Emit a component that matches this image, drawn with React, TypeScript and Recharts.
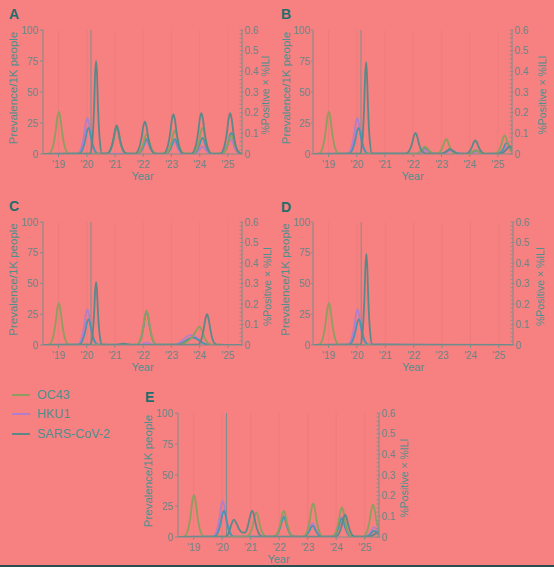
import React from 'react';
import { LineChart, Line, XAxis, YAxis, CartesianGrid, ReferenceLine, Label } from 'recharts';

type Pt = [number, number];

// ---------- colours & fonts ----------
const BG = '#F78080';
const COL_OC43 = '#8E9E5E';
const COL_HKU1 = '#B07ECB';
const COL_SARS = '#5E8888';
const COL_BLUE = '#4A94AE';
const COL_AXIS = '#7E8E8E';
const COL_TICK = '#6A8686';
const COL_LABEL = '#4D9090';
const COL_TITLE = '#1E6E6C';
const COL_GRID = '#EC7B7B';
const FONT = '"Liberation Sans", Arial, Helvetica, sans-serif';

// ---------- axes ----------
const X_DOMAIN: [number, number] = [2018.45, 2025.5];
const YEAR_TICKS = [2019, 2020, 2021, 2022, 2023, 2024, 2025];
const YEAR_LABELS = ["'19", "'20", "'21", "'22", "'23", "'24", "'25"];
const LEFT_TICKS = [0, 25, 50, 75, 100];
const RIGHT_TICKS = [
  0, 0.02, 0.04, 0.06, 0.08, 0.1, 0.12, 0.14, 0.16, 0.18, 0.2, 0.22, 0.24, 0.26, 0.28, 0.3,
  0.32, 0.34, 0.36, 0.38, 0.4, 0.42, 0.44, 0.46, 0.48, 0.5, 0.52, 0.54, 0.56, 0.58, 0.6,
];
const RIGHT_MAJOR = [0, 0.1, 0.2, 0.3, 0.4, 0.5, 0.6];
const RIGHT_MAJOR_LABELS = ['0', '0.1', '0.2', '0.3', '0.4', '0.5', '0.6'];
const MARKER_YEAR = 2020.15;

const LEGEND_NAMES = ['OC43', 'HKU1', 'SARS-CoV-2'];
const LEGEND_COLORS = [COL_OC43, COL_HKU1, COL_SARS];

// ---------- shared 2019-2020 seasons ----------
const OC43_2019: Pt[] = [
  [2018.45, 0], [2018.66, 0.3], [2018.79, 5], [2018.89, 17], [2018.96, 30], [2019.01, 34],
  [2019.06, 30], [2019.13, 17], [2019.23, 5], [2019.36, 0.3],
];
const HKU1_2020: Pt[] = [
  [2018.45, 0], [2019.67, 0.2], [2019.8, 4.4], [2019.9, 14.5], [2019.97, 25.5], [2020.02, 29],
  [2020.07, 25.5], [2020.14, 14.5], [2020.24, 4.4], [2020.37, 0.3],
];
const BLUE_2020: Pt[] = [
  [2018.45, 0], [2019.71, 0.2], [2019.84, 3.2], [2019.94, 10.5], [2020.01, 18.5], [2020.06, 21],
  [2020.11, 18.5], [2020.18, 10.5], [2020.28, 3.2], [2020.41, 0.2],
];

// ---------- Panel A ----------
const A_OC43_LATE: Pt[] = [
  [2020.71, 0.2], [2020.84, 3.3], [2020.94, 11], [2021.01, 19.4], [2021.06, 22], [2021.11, 19.4], [2021.18, 11], [2021.28, 3.3], [2021.41, 0.2],
  [2021.77, 0.2], [2021.9, 2.4], [2022.0, 8], [2022.07, 14], [2022.12, 16], [2022.17, 14], [2022.24, 8], [2022.34, 2.4], [2022.47, 0.2],
  [2022.77, 0.2], [2022.9, 2.9], [2023.0, 9.5], [2023.07, 16.7], [2023.12, 19], [2023.17, 16.7], [2023.24, 9.5], [2023.34, 2.9], [2023.47, 0.2],
  [2023.75, 0.2], [2023.88, 3.2], [2023.98, 10.5], [2024.05, 18.5], [2024.1, 21], [2024.15, 18.5], [2024.22, 10.5], [2024.32, 3.2], [2024.45, 0.2],
  [2024.77, 0.2], [2024.9, 2.3], [2025.0, 7.5], [2025.07, 13.2], [2025.12, 15], [2025.17, 13.2], [2025.24, 7.5], [2025.34, 2.3], [2025.5, 0.1],
];
const A_HKU1_LATE: Pt[] = [
  [2021.77, 0.1], [2021.9, 1.5], [2022.0, 5], [2022.07, 8.8], [2022.12, 10], [2022.17, 8.8], [2022.24, 5], [2022.34, 1.5], [2022.47, 0.1],
  [2022.75, 0.1], [2022.88, 1.5], [2022.98, 5], [2023.05, 8.8], [2023.1, 10], [2023.15, 8.8], [2023.22, 5], [2023.32, 1.5], [2023.45, 0.1],
  [2023.75, 0.1], [2023.88, 0.9], [2023.98, 3], [2024.05, 5.3], [2024.1, 6], [2024.15, 5.3], [2024.22, 3], [2024.32, 0.9], [2024.45, 0.1],
  [2024.75, 0.1], [2024.88, 1.8], [2024.98, 6], [2025.05, 10.6], [2025.1, 12], [2025.15, 10.6], [2025.22, 6], [2025.32, 1.8], [2025.5, 0.2],
];
const A_BLUE_LATE: Pt[] = [
  [2020.71, 0.2], [2020.84, 3.2], [2020.94, 10.5], [2021.01, 18.5], [2021.06, 21], [2021.11, 18.5], [2021.18, 10.5], [2021.28, 3.2], [2021.41, 0.2],
  [2021.77, 0.1], [2021.9, 1.8], [2022.0, 6], [2022.07, 10.6], [2022.12, 12], [2022.17, 10.6], [2022.24, 6], [2022.34, 1.8], [2022.47, 0.1],
  [2022.77, 0.1], [2022.9, 1.8], [2023.0, 6], [2023.07, 10.6], [2023.12, 12], [2023.17, 10.6], [2023.24, 6], [2023.34, 1.8], [2023.47, 0.1],
  [2023.75, 0.1], [2023.88, 2], [2023.98, 6.5], [2024.05, 11.4], [2024.1, 13], [2024.15, 11.4], [2024.22, 6.5], [2024.32, 2], [2024.45, 0.1],
  [2024.77, 0.2], [2024.9, 2.6], [2025.0, 8.5], [2025.07, 15], [2025.12, 17], [2025.17, 15], [2025.24, 8.5], [2025.34, 2.6], [2025.5, 0.3],
];
const A_SARS: Pt[] = [
  [2018.45, 0], [2020.12, 0.3], [2020.2, 11.3], [2020.26, 37.5], [2020.3, 66], [2020.33, 75], [2020.36, 66], [2020.4, 37.5], [2020.46, 11.3], [2020.54, 0.3],
  [2020.71, 0.2], [2020.84, 3.5], [2020.94, 11.5], [2021.01, 20], [2021.06, 23], [2021.11, 20], [2021.18, 11.5], [2021.28, 3.5], [2021.41, 0.2],
  [2021.71, 0.3], [2021.84, 3.9], [2021.94, 13], [2022.01, 22.9], [2022.06, 26], [2022.11, 22.9], [2022.18, 13], [2022.28, 3.9], [2022.41, 0.3],
  [2022.72, 0.3], [2022.85, 4.8], [2022.95, 16], [2023.02, 28.2], [2023.07, 32], [2023.12, 28.2], [2023.19, 16], [2023.29, 4.8], [2023.42, 0.3],
  [2023.71, 0.3], [2023.84, 5], [2023.94, 16.5], [2024.01, 29], [2024.06, 33], [2024.11, 29], [2024.18, 16.5], [2024.28, 5], [2024.41, 0.3],
  [2024.73, 0.3], [2024.86, 5], [2024.96, 16.5], [2025.03, 29], [2025.08, 33], [2025.13, 29], [2025.2, 16.5], [2025.3, 5], [2025.43, 0.5], [2025.5, 0.2],
];

// ---------- Panel B ----------
const B_OC43_LATE: Pt[] = [
  [2022.1, 0.2], [2022.22, 1.5], [2022.32, 4], [2022.42, 6], [2022.52, 4], [2022.62, 1.5], [2022.75, 0.2],
  [2022.82, 0.2], [2022.95, 1.8], [2023.05, 6], [2023.12, 10.6], [2023.17, 12], [2023.22, 10.6], [2023.29, 6], [2023.39, 1.8], [2023.52, 0.2],
  [2023.9, 0.1], [2024.05, 1.2], [2024.2, 3], [2024.35, 1.2], [2024.5, 0.1],
  [2024.89, 0.2], [2025.02, 2.3], [2025.12, 7.5], [2025.19, 13.2], [2025.24, 15], [2025.29, 13.2], [2025.36, 7.5], [2025.46, 2.3], [2025.5, 1.5],
];
const B_HKU1_LATE: Pt[] = [
  [2022.1, 0.1], [2022.25, 1], [2022.45, 3], [2022.65, 1], [2022.8, 0.1],
  [2023.0, 0.1], [2023.15, 1], [2023.35, 3], [2023.55, 1], [2023.7, 0.1],
  [2023.9, 0.1], [2024.1, 0.8], [2024.25, 2], [2024.4, 0.8], [2024.6, 0.1],
  [2025.0, 0.1], [2025.15, 1], [2025.27, 3.5], [2025.36, 6], [2025.45, 4.5], [2025.5, 3.5],
];
const B_BLUE_LATE: Pt[] = [
  [2022.1, 0.2], [2022.22, 1.3], [2022.32, 3.5], [2022.42, 5], [2022.52, 3.5], [2022.62, 1.3], [2022.75, 0.2],
  [2022.95, 0.2], [2023.1, 1], [2023.2, 2.6], [2023.3, 4], [2023.4, 2.6], [2023.5, 1], [2023.65, 0.2],
  [2023.9, 0.1], [2024.07, 1.2], [2024.22, 3], [2024.37, 1.2], [2024.52, 0.1],
  [2024.97, 0.2], [2025.1, 1.4], [2025.2, 4.5], [2025.27, 8], [2025.32, 9], [2025.37, 8], [2025.44, 4.5], [2025.5, 2.5],
];
const B_SARS: Pt[] = [
  [2018.45, 0], [2020.12, 0.3], [2020.2, 11.1], [2020.26, 37], [2020.3, 65], [2020.33, 74], [2020.36, 65], [2020.4, 37], [2020.46, 11.1], [2020.54, 0.3],
  [2021.73, 0.2], [2021.86, 2.6], [2021.96, 8.5], [2022.03, 15], [2022.08, 17], [2022.13, 15], [2022.2, 8.5], [2022.3, 2.6], [2022.45, 0.5],
  [2022.95, 0.2], [2023.1, 1], [2023.2, 2.5], [2023.3, 4], [2023.4, 2.5], [2023.5, 1], [2023.65, 0.2],
  [2023.85, 0.2], [2023.98, 1.7], [2024.08, 5.5], [2024.15, 9.7], [2024.2, 11], [2024.25, 9.7], [2024.32, 5.5], [2024.42, 1.7], [2024.55, 0.2],
  [2025.1, 0.3], [2025.2, 1.5], [2025.3, 3.5], [2025.4, 6], [2025.5, 5],
];

// ---------- Panel C ----------
const C_OC43_LATE: Pt[] = [
  [2021.77, 0.3], [2021.9, 4.2], [2022.0, 14], [2022.07, 24.6], [2022.12, 28], [2022.17, 24.6], [2022.24, 14], [2022.34, 4.2], [2022.47, 0.3],
  [2023.3, 0.3], [2023.5, 2], [2023.7, 5.5], [2023.85, 10.5], [2023.99, 15], [2024.08, 12], [2024.18, 5.5], [2024.3, 1.5], [2024.45, 0.2],
  [2025.5, 0.1],
];
const C_HKU1_LATE: Pt[] = [
  [2021.85, 0.1], [2022.0, 1], [2022.12, 2], [2022.25, 1], [2022.4, 0.1],
  [2023.1, 0.1], [2023.3, 2], [2023.5, 6], [2023.66, 8], [2023.82, 7], [2023.98, 4], [2024.1, 1.8], [2024.25, 0.4], [2024.4, 0.1],
  [2025.5, 0],
];
const C_BLUE_LATE: Pt[] = [
  [2021.77, 0.3], [2021.9, 4], [2022.0, 13.5], [2022.07, 23.8], [2022.12, 27], [2022.17, 23.8], [2022.24, 13.5], [2022.34, 4], [2022.47, 0.3],
  [2023.2, 0.2], [2023.4, 1.8], [2023.6, 4.8], [2023.75, 6], [2023.9, 5], [2024.05, 2.5], [2024.2, 0.8], [2024.4, 0.1],
  [2025.5, 0],
];
const C_SARS_ALL: Pt[] = [
  [2018.45, 0], [2020.12, 0.3], [2020.2, 7.7], [2020.26, 25.5], [2020.3, 45], [2020.33, 51], [2020.36, 45], [2020.4, 25.5], [2020.46, 7.7], [2020.54, 0.3],
  [2021.0, 0.1], [2021.3, 1], [2021.6, 0.1],
  [2023.94, 0.3], [2024.05, 3.8], [2024.14, 12.5], [2024.21, 22], [2024.26, 25], [2024.31, 22], [2024.38, 12.5], [2024.47, 3.8], [2024.6, 0.3],
  [2025.5, 0],
];

// ---------- Panel D ----------
const D_TAIL: Pt[] = [[2025.5, 0]];
const D_SARS: Pt[] = [
  [2018.45, 0], [2020.12, 0.3], [2020.2, 11.1], [2020.26, 37], [2020.3, 65], [2020.33, 74], [2020.36, 65], [2020.4, 37], [2020.46, 11.1], [2020.54, 0.3],
  [2025.5, 0],
];

// ---------- Panel E ----------
const E_OC43_LATE: Pt[] = [
  [2020.85, 0.3], [2020.98, 3], [2021.08, 10], [2021.15, 17.6], [2021.2, 20], [2021.25, 17.6], [2021.32, 10], [2021.42, 3], [2021.55, 0.3],
  [2021.81, 0.3], [2021.94, 3.2], [2022.04, 10.5], [2022.11, 18.5], [2022.16, 21], [2022.21, 18.5], [2022.28, 10.5], [2022.38, 3.2], [2022.51, 0.3],
  [2022.84, 0.3], [2022.97, 4], [2023.07, 13.5], [2023.14, 23.8], [2023.19, 27], [2023.24, 23.8], [2023.31, 13.5], [2023.41, 4], [2023.54, 0.3],
  [2023.85, 0.3], [2023.98, 3.6], [2024.08, 12], [2024.15, 21.1], [2024.2, 24], [2024.25, 21.1], [2024.32, 12], [2024.42, 3.6], [2024.55, 0.3],
  [2024.94, 0.3], [2025.07, 3.9], [2025.17, 13], [2025.24, 22.9], [2025.29, 26], [2025.34, 22.9], [2025.41, 13], [2025.5, 4.5],
];
const E_HKU1_LATE: Pt[] = [
  [2021.81, 0.2], [2021.94, 2.6], [2022.04, 8.5], [2022.11, 15], [2022.16, 17], [2022.21, 15], [2022.28, 8.5], [2022.38, 2.6], [2022.51, 0.2],
  [2022.82, 0.1], [2022.95, 1.7], [2023.05, 5.5], [2023.12, 9.7], [2023.17, 11], [2023.22, 9.7], [2023.29, 5.5], [2023.39, 1.7], [2023.52, 0.1],
  [2023.83, 0.2], [2023.96, 2.4], [2024.06, 8], [2024.13, 14], [2024.18, 16], [2024.23, 14], [2024.3, 8], [2024.4, 2.4], [2024.53, 0.2],
  [2024.98, 0.1], [2025.11, 1.2], [2025.21, 4], [2025.28, 7], [2025.33, 8], [2025.38, 7], [2025.45, 4], [2025.5, 2.5],
];
const E_BLUE_LATE: Pt[] = [
  [2021.81, 0.2], [2021.94, 2.4], [2022.04, 8], [2022.11, 14], [2022.16, 16], [2022.21, 14], [2022.28, 8], [2022.38, 2.4], [2022.51, 0.2],
  [2022.82, 0.1], [2022.95, 1.4], [2023.05, 4.5], [2023.12, 7.9], [2023.17, 9], [2023.22, 7.9], [2023.29, 4.5], [2023.39, 1.4], [2023.52, 0.1],
  [2023.85, 0.2], [2023.98, 2.3], [2024.08, 7.5], [2024.15, 13.2], [2024.2, 15], [2024.25, 13.2], [2024.32, 7.5], [2024.42, 2.3], [2024.55, 0.2],
  [2024.98, 0.1], [2025.11, 0.8], [2025.21, 2.5], [2025.28, 4.4], [2025.33, 5], [2025.38, 4.4], [2025.45, 2.5], [2025.5, 1.5],
];
const E_SARS: Pt[] = [
  [2018.45, 0], [2020.1, 0.2], [2020.22, 3], [2020.32, 10], [2020.41, 14], [2020.5, 11], [2020.6, 6], [2020.72, 3.5], [2020.8, 3.5],
  [2020.88, 7], [2020.96, 15], [2021.02, 20], [2021.06, 21], [2021.1, 19], [2021.17, 11], [2021.27, 3.5], [2021.4, 0.3],
  [2023.96, 0.3], [2024.09, 2.7], [2024.19, 9], [2024.26, 15.8], [2024.31, 18], [2024.36, 15.8], [2024.43, 9], [2024.53, 2.7], [2024.66, 0.3],
  [2025.15, 0.2], [2025.3, 1.5], [2025.42, 3.5], [2025.5, 4],
];

const rows = (pts: Pt[]) => pts.map(([x, y]) => ({ x, y }));

type PanelSpec = {
  letter: string;
  x: number; y: number; w: number; h: number;
  pl: number; pr: number; pt: number; ph: number;
  leftTickSize: number; leftTickMargin: number;
  leftLabelDx: number; rightLabelDx: number;
  letterX: number; letterY: number;
  oc43: Pt[]; hku1: Pt[]; blue: Pt[]; sars: Pt[];
};

const PANELS: PanelSpec[] = [
  {
    letter: 'A', x: 0, y: 0, w: 277, h: 190, pl: 43, pr: 35, pt: 30, ph: 124,
    leftTickSize: 3, leftTickMargin: 2, leftLabelDx: 13, rightLabelDx: 23, letterX: 9, letterY: 7,
    oc43: [...OC43_2019, ...A_OC43_LATE], hku1: [...HKU1_2020, ...A_HKU1_LATE],
    blue: [...BLUE_2020, ...A_BLUE_LATE], sars: A_SARS,
  },
  {
    letter: 'B', x: 277, y: 0, w: 277, h: 190, pl: 36, pr: 42, pt: 30, ph: 124,
    leftTickSize: 2, leftTickMargin: 1, leftLabelDx: 9, rightLabelDx: 30, letterX: 4, letterY: 7,
    oc43: [...OC43_2019, ...B_OC43_LATE], hku1: [...HKU1_2020, ...B_HKU1_LATE],
    blue: [...BLUE_2020, ...B_BLUE_LATE], sars: B_SARS,
  },
  {
    letter: 'C', x: 0, y: 190, w: 277, h: 190, pl: 43, pr: 35, pt: 32, ph: 123,
    leftTickSize: 3, leftTickMargin: 2, leftLabelDx: 13, rightLabelDx: 25, letterX: 9, letterY: 9,
    oc43: [...OC43_2019, ...C_OC43_LATE], hku1: [...HKU1_2020, ...C_HKU1_LATE],
    blue: [...BLUE_2020, ...C_BLUE_LATE], sars: C_SARS_ALL,
  },
  {
    letter: 'D', x: 277, y: 190, w: 277, h: 190, pl: 36, pr: 41, pt: 32, ph: 123,
    leftTickSize: 2, leftTickMargin: 1, leftLabelDx: 8, rightLabelDx: 27, letterX: 4, letterY: 10,
    oc43: [...OC43_2019, ...D_TAIL], hku1: [...HKU1_2020, ...D_TAIL],
    blue: [...BLUE_2020, ...D_TAIL], sars: D_SARS,
  },
  {
    letter: 'E', x: 135, y: 380, w: 277, h: 187, pl: 43, pr: 33, pt: 33, ph: 124,
    leftTickSize: 3, leftTickMargin: 2, leftLabelDx: 13, rightLabelDx: 25, letterX: 10, letterY: 10,
    oc43: [...OC43_2019, ...E_OC43_LATE], hku1: [...HKU1_2020, ...E_HKU1_LATE],
    blue: [...BLUE_2020, ...E_BLUE_LATE], sars: E_SARS,
  },
];

const RightTick = (props: any) => {
  const { x, y, payload } = props;
  const v = payload.value as number;
  const mi = RIGHT_MAJOR.findIndex((m) => Math.abs(m - v) < 1e-6);
  const major = mi >= 0;
  return (
    <g>
      <line x1={x - 2.5} x2={x + (major ? 1.5 : 0)} y1={y} y2={y} stroke={COL_AXIS} strokeWidth={0.8} />
      {major && (
        <text x={x + 2.5} y={y} dy="0.36em" fontSize={10} fill={COL_TICK} textAnchor="start" fontFamily={FONT}>
          {RIGHT_MAJOR_LABELS[mi]}
        </text>
      )}
    </g>
  );
};

function Panel({ p }: { p: PanelSpec }) {
  const xAxisH = p.h - p.pt - p.ph;
  const leftLabel = (props: any) => {
    const vb = props.viewBox || {};
    const cx = (vb.x ?? 0) + p.leftLabelDx;
    const cy = (vb.y ?? p.pt) + (vb.height ?? p.ph) / 2 - 4;
    return (
      <text x={cx} y={cy} transform={`rotate(-90 ${cx} ${cy})`} textAnchor="middle" dominantBaseline="central"
        fontSize={11.5} fill={COL_LABEL} fontFamily={FONT}>Prevalence/1K people</text>
    );
  };
  const rightLabel = (props: any) => {
    const vb = props.viewBox || {};
    const cx = (vb.x ?? 0) + p.rightLabelDx;
    const cy = (vb.y ?? p.pt) + (vb.height ?? p.ph) / 2 + 3;
    return (
      <text x={cx} y={cy} transform={`rotate(-90 ${cx} ${cy})`} textAnchor="middle" dominantBaseline="central"
        fontSize={10.5} fill={COL_LABEL} fontFamily={FONT}>%Positive × %ILI</text>
    );
  };
  const bottomLabel = (props: any) => {
    const vb = props.viewBox || {};
    const cx = (vb.x ?? 0) + (vb.width ?? 0) / 2;
    const cy = (vb.y ?? 0) + 22;
    return (
      <text x={cx} y={cy} textAnchor="middle" dominantBaseline="central" fontSize={11} fill={COL_LABEL} fontFamily={FONT}>Year</text>
    );
  };
  const lineProps = { type: 'monotone' as const, dataKey: 'y', dot: false, activeDot: false, isAnimationActive: false, strokeWidth: 1.8, yAxisId: 'left' };
  return (
    <div style={{ position: 'absolute', left: p.x, top: p.y, width: p.w, height: p.h }}>
      <div style={{ position: 'absolute', left: p.letterX, top: p.letterY, fontFamily: FONT, fontWeight: 'bold', fontSize: 14, color: COL_TITLE, lineHeight: '14px' }}>
        {p.letter}
      </div>
      <LineChart width={p.w} height={p.h} margin={{ top: p.pt, right: 0, bottom: 0, left: 0 }}>
        <CartesianGrid vertical horizontal={false} stroke={COL_GRID} strokeWidth={0.8} />
        <XAxis
          dataKey="x" type="number" domain={X_DOMAIN} allowDataOverflow ticks={YEAR_TICKS} interval={0}
          tickFormatter={(v: number) => YEAR_LABELS[YEAR_TICKS.indexOf(v)] ?? ''}
          height={xAxisH} stroke={COL_AXIS} tickSize={3} tickMargin={4}
          tick={{ fontSize: 10, fill: COL_TICK, fontFamily: FONT }}
        >
          <Label content={bottomLabel} />
        </XAxis>
        <YAxis
          yAxisId="left" orientation="left" type="number" domain={[0, 100]} allowDataOverflow ticks={LEFT_TICKS} interval={0}
          width={p.pl} stroke={COL_AXIS} tickSize={p.leftTickSize} tickMargin={p.leftTickMargin}
          tick={{ fontSize: 10, fill: COL_TICK, fontFamily: FONT }}
        >
          <Label content={leftLabel} />
        </YAxis>
        <YAxis
          yAxisId="right" orientation="right" type="number" domain={[0, 0.6]} allowDataOverflow ticks={RIGHT_TICKS} interval={0}
          width={p.pr} stroke={COL_AXIS} tickSize={0} tickMargin={0} tickLine={false} tick={<RightTick />}
        >
          <Label content={rightLabel} />
        </YAxis>
        <ReferenceLine yAxisId="left" x={MARKER_YEAR} stroke={COL_AXIS} strokeWidth={1} />
        <Line {...lineProps} data={rows(p.hku1)} stroke={COL_HKU1} name="HKU1" />
        <Line {...lineProps} data={rows(p.blue)} stroke={COL_BLUE} name="HKU1+OC43" />
        <Line {...lineProps} data={rows(p.oc43)} stroke={COL_OC43} name="OC43" />
        <Line {...lineProps} data={rows(p.sars)} stroke={COL_SARS} name="SARS-CoV-2" />
      </LineChart>
    </div>
  );
}

export default function App() {
  return (
    <div style={{ position: 'absolute', left: 0, top: 0, width: 554, height: 567, background: BG, overflow: 'hidden' }}>
      {PANELS.map((p) => (
        <Panel key={p.letter} p={p} />
      ))}
      <div style={{ position: 'absolute', left: 12, top: 385 }}>
        {LEGEND_NAMES.map((n, i) => (
          <div key={n} style={{ display: 'flex', alignItems: 'center', height: 19.5 }}>
            <div style={{ width: 18, height: 2, background: LEGEND_COLORS[i], marginRight: 7 }} />
            <span style={{ fontFamily: FONT, fontSize: 12.5, color: COL_LABEL }}>{n}</span>
          </div>
        ))}
      </div>
      <div style={{ position: 'absolute', left: 0, top: 565, width: 554, height: 2, background: '#2A4D4D' }} />
    </div>
  );
}
